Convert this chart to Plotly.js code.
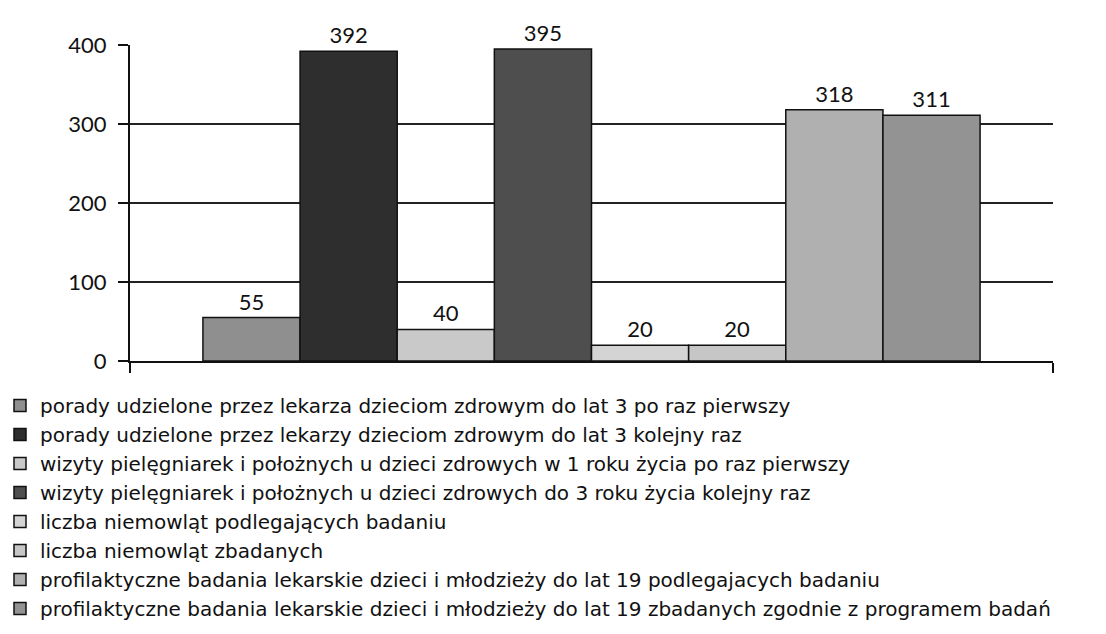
<!DOCTYPE html>
<html>
<head>
<meta charset="utf-8">
<script src="https://cdn.plot.ly/plotly-3.0.1.min.js"></script>
<style>html,body{margin:0;padding:0;background:#fff;}#chart{width:1106px;height:634px;}</style>
</head>
<body>
<div id="chart"></div>
<script>
const seriesNames = [
  "porady udzielone przez lekarza dzieciom zdrowym do lat 3 po raz pierwszy",
  "porady udzielone przez lekarzy dzieciom zdrowym do lat 3 kolejny raz",
  "wizyty pielęgniarek i położnych u dzieci zdrowych w 1 roku życia po raz pierwszy",
  "wizyty pielęgniarek i położnych u dzieci zdrowych do 3 roku życia kolejny raz",
  "liczba niemowląt podlegających badaniu",
  "liczba niemowląt zbadanych",
  "profilaktyczne badania lekarskie dzieci i młodzieży do lat 19 podlegajacych badaniu",
  "profilaktyczne badania lekarskie dzieci i młodzieży do lat 19 zbadanych zgodnie z programem badań"
];
const seriesValues = [55, 392, 40, 395, 20, 20, 318, 311];
const seriesColors = ["#8f8f8f", "#2e2e2e", "#c9c9c9", "#4e4e4e", "#d4d4d4", "#c6c6c6", "#b0b0b0", "#939393"];
const yTicks = [0, 100, 200, 300, 400];

const NUMFONT = "Lato, 'Open Sans', sans-serif";
const LEGFONT = "'DejaVu Sans', 'Open Sans', sans-serif";

const traces = seriesNames.map((name, i) => ({
  type: "bar",
  name: name,
  x: [0],
  y: [seriesValues[i]],
  text: [String(seriesValues[i])],
  textposition: "outside",
  constraintext: "none",
  cliponaxis: false,
  textfont: {family: NUMFONT, size: 22, color: "#111"},
  marker: {color: seriesColors[i], line: {color: "#111", width: 1.5}},
  hoverinfo: "name+y"
}));

const layout = {
  width: 1106, height: 634,
  margin: {l: 130, r: 53, t: 45, b: 273, autoexpand: false},
  paper_bgcolor: "#fff", plot_bgcolor: "#fff",
  barmode: "group",
  bargap: 0.158,
  bargroupgap: 0,
  font: {family: NUMFONT, color: "#111", size: 21},
  showlegend: true,
  legend: {
    orientation: "v",
    xref: "container", yref: "container",
    x: 0, y: 1 - 386/634, xanchor: "left", yanchor: "top",
    font: {family: LEGFONT, size: 20, color: "#111"},
    bgcolor: "rgba(0,0,0,0)",
    traceorder: "normal",
    itemwidth: 30
  },
  xaxis: {
    range: [-0.5, 0.5],
    tickvals: [-0.5, 0.5], showticklabels: false,
    ticks: "outside", ticklen: 10, tickcolor: "#111", tickwidth: 1.5,
    showline: true, linecolor: "#111", linewidth: 2,
    showgrid: false, zeroline: false, fixedrange: true
  },
  yaxis: {
    range: [0, 400],
    tickvals: yTicks,
    ticktext: yTicks.map(String),
    ticks: "outside", ticklen: 10, tickcolor: "#111", tickwidth: 1.5,
    ticklabelstandoff: 7,
    tickfont: {family: NUMFONT, size: 22, color: "#111"},
    showline: true, linecolor: "#111", linewidth: 2,
    showgrid: true, gridcolor: "#222", gridwidth: 1.2,
    zeroline: false, fixedrange: true
  }
};

Plotly.newPlot("chart", traces, layout, {displayModeBar: false, staticPlot: true});
</script>
</body>
</html>
